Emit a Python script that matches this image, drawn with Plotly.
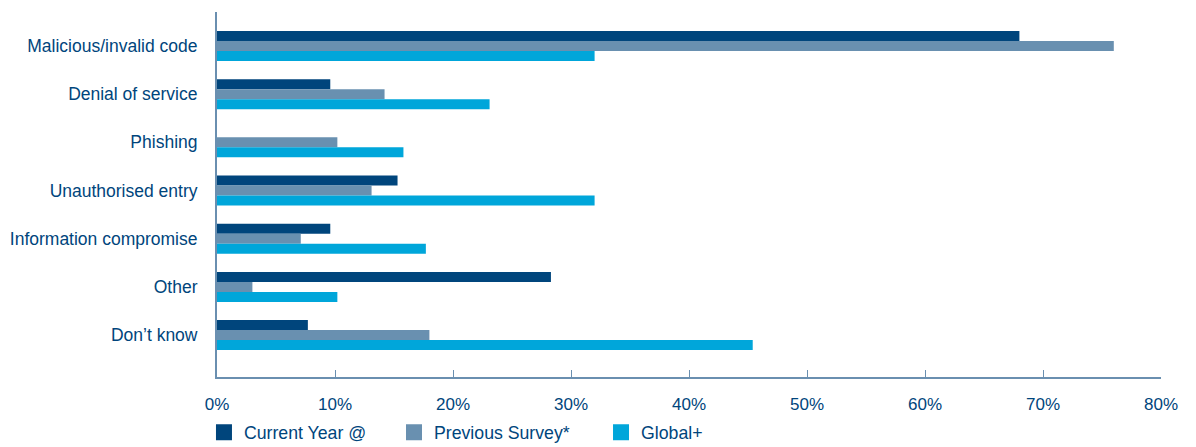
import plotly.graph_objects as go

categories = [
    "Malicious/invalid code",
    "Denial of service",
    "Phishing",
    "Unauthorised entry",
    "Information compromise",
    "Other",
    "Don\u2019t know",
]
current_year = [68.0, 9.6, 0.0, 15.3, 9.6, 28.3, 7.7]
previous_survey = [76.0, 14.2, 10.2, 13.1, 7.1, 3.0, 18.0]
global_plus = [32.0, 23.1, 15.8, 32.0, 17.7, 10.2, 45.4]

series = [
    ("Current Year @", current_year, "#00457c"),
    ("Previous Survey*", previous_survey, "#6990b0"),
    ("Global+", global_plus, "#00a6da"),
]

TEXT = "#00457c"
AXIS = "#6a8fb0"
FONT = "Liberation Sans, Arial, sans-serif"

legend_ids = ["legend", "legend2", "legend3"]
legend_x = [-0.0138, 0.1875, 0.4068]

fig = go.Figure()
for (name, vals, color), lid in zip(series, legend_ids):
    fig.add_trace(go.Bar(
        y=categories, x=vals, orientation="h", name=name,
        marker=dict(color=color, line=dict(width=0)),
        showlegend=False,
    ))
    # square legend swatch
    fig.add_trace(go.Scatter(
        x=[None], y=[None], mode="markers", name=name, legend=lid,
        marker=dict(symbol="square", size=18, color=color),
    ))

legend_style = dict(
    orientation="h", xanchor="left",
    yref="container", y=0.032, yanchor="middle",
    font=dict(size=17.7, color=TEXT), itemwidth=30,
    itemsizing="trace", bgcolor="rgba(0,0,0,0)",
)

fig.update_layout(
    width=1196, height=447,
    margin=dict(l=217, r=35, t=12, b=70, autoexpand=False),
    paper_bgcolor="white", plot_bgcolor="white",
    barmode="group", bargap=0.378, bargroupgap=0,
    font=dict(family=FONT, size=16, color=TEXT),
    legend=dict(x=legend_x[0], **legend_style),
    legend2=dict(x=legend_x[1], **legend_style),
    legend3=dict(x=legend_x[2], **legend_style),
    xaxis=dict(
        range=[0, 80], tickvals=[0, 10, 20, 30, 40, 50, 60, 70, 80],
        ticktext=[f"{v}%" for v in range(0, 90, 10)],
        ticks="inside", ticklen=7, tickcolor=AXIS, tickwidth=1,
        showline=True, linecolor=AXIS, linewidth=2,
        showgrid=False, zeroline=False, ticklabelstandoff=11,
        tickfont=dict(size=17, color=TEXT),
    ),
    yaxis=dict(
        type="category", categoryorder="array", categoryarray=categories,
        range=[6.87, -0.705],
        showline=True, linecolor=AXIS, linewidth=2,
        showgrid=False, zeroline=False, ticks="", ticklabelstandoff=14,
        tickfont=dict(size=17.5, color=TEXT),
    ),
)

fig.write_html("out.html")
